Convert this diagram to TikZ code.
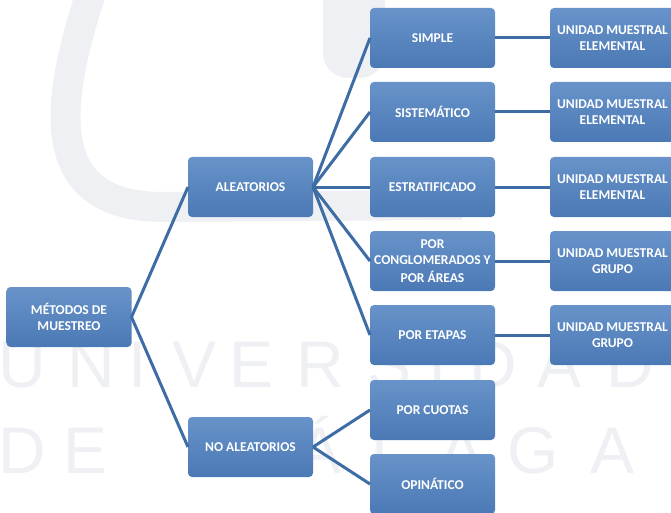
\documentclass[tikz,border=0pt]{standalone}
\usepackage{fontspec}
\setmainfont{Carlito}
\newfontfamily\marcafont{Liberation Sans}
\usetikzlibrary{positioning}
\definecolor{cajaclaro}{HTML}{6893CA}
\definecolor{cajaoscuro}{HTML}{4B79B5}
\definecolor{lineaazul}{HTML}{3E6CA5}
\definecolor{marcagris}{HTML}{EEF0F3}
\tikzset{
  caja/.style={rectangle, rounded corners=4pt, top color=cajaclaro, bottom color=cajaoscuro,
    minimum width=125pt, minimum height=60pt, inner sep=2pt, outer sep=0pt, align=center,
    text=white, font=\fontsize{13.5}{16}\selectfont\bfseries},
  enlace/.style={lineaazul, line width=3pt},
  marca/.style={text=marcagris, font=\marcafont\fontsize{66}{66}\selectfont, inner sep=0pt, anchor=base}
}

\begin{document}
\begin{tikzpicture}[x=1pt,y=-1pt]
    \useasboundingbox (0,0) rectangle (671,513);
    \clip (0,0) rectangle (671,513);

    % Watermark logo
    \draw[marcagris, line width=30pt] (92,-10) .. controls (52,110) and (45,205) .. (160,207) -- (462,205);
    \fill[marcagris, rounded corners=25pt] (323,-40) rectangle (385,78);

    % Watermark text
    \foreach \letra/\px [count=\i] in {U/22, N/91, I/138, V/195, E/252, R/320, S/390, I/438, D/493, A/560, D/630}
        \node[marca] (fila1-\i) at (\px,387) {\letra};
    \foreach \letra/\px [count=\i] in {D/22, E/86, M/225, Á/320, L/390, A/462, G/533, A/612}
        \node[marca] (fila2-\i) at (\px,473) {\letra};

    % Root and first level
    \node[caja] (metodos) at (69,317) {MÉTODOS DE\\MUESTREO};
    \node[caja] (aleat) at (250.5,187) {ALEATORIOS};
    \node[caja] (noaleat) at (250.5,447) {NO ALEATORIOS};

    % Second level
    \node[caja] (simple) at (432.5,38) {SIMPLE};
    \node[caja] (sistem) at (432.5,112) {SISTEMÁTICO};
    \node[caja] (estrat) at (432.5,187) {ESTRATIFICADO};
    \node[caja] (conglo) at (432.5,261) {POR\\CONGLOMERADOS Y\\[2pt]POR ÁREAS};
    \node[caja] (etapas) at (432.5,335) {POR ETAPAS};
    \node[caja] (cuotas) at (432.5,410) {POR CUOTAS};
    \node[caja] (opinat) at (432.5,484) {OPINÁTICO};

    % Sampling units
    \node[caja] (unidad1) at (612.5,38) {UNIDAD MUESTRAL\\ELEMENTAL};
    \node[caja] (unidad2) at (612.5,112) {UNIDAD MUESTRAL\\ELEMENTAL};
    \node[caja] (unidad3) at (612.5,187) {UNIDAD MUESTRAL\\ELEMENTAL};
    \node[caja] (unidad4) at (612.5,261) {UNIDAD MUESTRAL\\GRUPO};
    \node[caja] (unidad5) at (612.5,335) {UNIDAD MUESTRAL\\GRUPO};

    % Connectors
    \draw[enlace] (metodos.east) -- (aleat.west);
    \draw[enlace] (metodos.east) -- (noaleat.west);
    \foreach \hijo in {simple, sistem, estrat, conglo, etapas}
        \draw[enlace] (aleat.east) -- (\hijo.west);
    \draw[enlace] (noaleat.east) -- (cuotas.west);
    \draw[enlace] (noaleat.east) -- (opinat.west);
    \draw[enlace] (simple.east) -- (unidad1.west);
    \draw[enlace] (sistem.east) -- (unidad2.west);
    \draw[enlace] (estrat.east) -- (unidad3.west);
    \draw[enlace] (conglo.east) -- (unidad4.west);
    \draw[enlace] (etapas.east) -- (unidad5.west);
\end{tikzpicture}
\end{document}
